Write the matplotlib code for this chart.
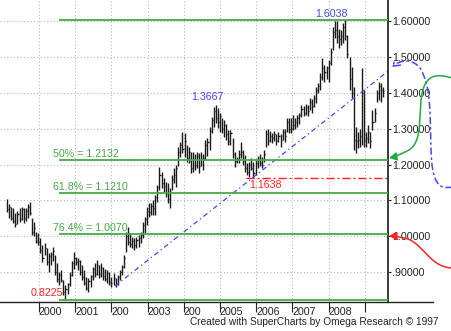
"""EUR/USD 3-week bar chart with Fibonacci retracement levels (SuperCharts style)."""

import matplotlib

matplotlib.use("Agg")
import matplotlib.pyplot as plt
import matplotlib.transforms as mtransforms
from matplotlib.lines import Line2D
from matplotlib.patches import FancyArrowPatch
from matplotlib.path import Path
import numpy as np

plt.rcParams["font.family"] = ["Liberation Sans", "DejaVu Sans"]

# ---- data -------------------------------------------------------------
bar_start = 1999.116      # first bar, fractional year
bar_step = 3 / 52         # one bar every three weeks

highs = [
    1.103, 1.090, 1.083, 1.079, 1.065, 1.070, 1.079, 1.083, 1.080, 1.078,
    1.090, 1.097, 1.051, 1.040, 1.013, 1.010, 0.995, 0.976, 0.981, 0.967,
    0.953, 0.957, 0.970, 0.948, 0.925, 0.900, 0.906, 0.878, 0.864, 0.870,
    0.900, 0.930, 0.957, 0.943, 0.939, 0.933, 0.920, 0.905, 0.887, 0.883,
    0.892, 0.915, 0.925, 0.933, 0.920, 0.925, 0.915, 0.910, 0.906, 0.900,
    0.887, 0.897, 0.883, 0.892, 0.906, 0.920, 0.948, 1.013, 1.027, 1.009,
    0.999, 0.994, 0.999, 1.004, 1.013, 1.040, 1.055, 1.083, 1.092, 1.092,
    1.100, 1.115, 1.143, 1.194, 1.180, 1.162, 1.153, 1.149, 1.135, 1.171,
    1.190, 1.199, 1.250, 1.264, 1.292, 1.288, 1.255, 1.250, 1.236, 1.236,
    1.230, 1.236, 1.232, 1.236, 1.230, 1.270, 1.275, 1.306, 1.334, 1.360,
    1.3667, 1.358, 1.345, 1.330, 1.325, 1.315, 1.297, 1.297, 1.275, 1.236,
    1.222, 1.241, 1.264, 1.241, 1.227, 1.204, 1.208, 1.218, 1.208, 1.212,
    1.225, 1.230, 1.222, 1.241, 1.297, 1.300, 1.295, 1.288, 1.295, 1.285,
    1.292, 1.285, 1.300, 1.300, 1.330, 1.330, 1.330, 1.339, 1.330, 1.339,
    1.345, 1.367, 1.365, 1.370, 1.368, 1.386, 1.383, 1.395, 1.418, 1.428,
    1.456, 1.498, 1.478, 1.475, 1.492, 1.526, 1.585, 1.600, 1.600, 1.580,
    1.575, 1.596, 1.6038, 1.562, 1.500, 1.473, 1.418, 1.306, 1.290, 1.300,
    1.470, 1.409, 1.290, 1.310, 1.290, 1.353, 1.358, 1.409, 1.432, 1.428,
    1.418,
]
lows = [
    1.069, 1.051, 1.045, 1.037, 1.026, 1.034, 1.040, 1.045, 1.037, 1.042,
    1.051, 1.060, 1.004, 1.000, 0.980, 0.975, 0.953, 0.929, 0.948, 0.920,
    0.900, 0.920, 0.930, 0.892, 0.873, 0.864, 0.873, 0.836, 0.8225, 0.840,
    0.860, 0.890, 0.910, 0.920, 0.906, 0.892, 0.878, 0.864, 0.850, 0.845,
    0.859, 0.878, 0.887, 0.892, 0.883, 0.887, 0.878, 0.874, 0.869, 0.864,
    0.859, 0.864, 0.859, 0.864, 0.878, 0.892, 0.911, 0.957, 0.976, 0.971,
    0.966, 0.962, 0.966, 0.971, 0.980, 0.994, 1.008, 1.031, 1.055, 1.060,
    1.059, 1.059, 1.097, 1.129, 1.135, 1.125, 1.110, 1.093, 1.079, 1.129,
    1.149, 1.139, 1.195, 1.222, 1.232, 1.222, 1.208, 1.205, 1.176, 1.180,
    1.185, 1.190, 1.178, 1.195, 1.185, 1.213, 1.225, 1.241, 1.288, 1.306,
    1.316, 1.302, 1.290, 1.288, 1.278, 1.270, 1.255, 1.255, 1.219, 1.194,
    1.204, 1.204, 1.218, 1.199, 1.180, 1.171, 1.166, 1.185, 1.1638, 1.172,
    1.190, 1.195, 1.191, 1.208, 1.250, 1.255, 1.262, 1.260, 1.265, 1.255,
    1.262, 1.250, 1.268, 1.262, 1.290, 1.288, 1.288, 1.297, 1.300, 1.306,
    1.315, 1.334, 1.335, 1.340, 1.335, 1.353, 1.345, 1.362, 1.371, 1.400,
    1.409, 1.437, 1.432, 1.440, 1.432, 1.478, 1.520, 1.555, 1.540, 1.526,
    1.535, 1.540, 1.548, 1.498, 1.409, 1.386, 1.241, 1.233, 1.247, 1.250,
    1.255, 1.250, 1.250, 1.260, 1.247, 1.297, 1.320, 1.376, 1.381, 1.376,
    1.390,
]
closes = [
    1.075, 1.082, 1.052, 1.044, 1.035, 1.062, 1.048, 1.076, 1.050, 1.070,
    1.082, 1.066, 1.012, 1.022, 0.988, 0.984, 0.962, 0.940, 0.968, 0.928,
    0.945, 0.950, 0.958, 0.900, 0.880, 0.892, 0.878, 0.845, 0.852, 0.866,
    0.893, 0.925, 0.940, 0.928, 0.930, 0.900, 0.885, 0.870, 0.856, 0.874,
    0.888, 0.908, 0.896, 0.920, 0.895, 0.912, 0.888, 0.880, 0.898, 0.872,
    0.870, 0.884, 0.866, 0.886, 0.900, 0.915, 0.940, 1.000, 0.985, 0.978,
    0.988, 0.975, 0.990, 0.995, 1.005, 1.032, 1.048, 1.072, 1.068, 1.085,
    1.078, 1.110, 1.138, 1.170, 1.150, 1.140, 1.120, 1.105, 1.125, 1.160,
    1.170, 1.190, 1.235, 1.255, 1.245, 1.265, 1.220, 1.235, 1.190, 1.215,
    1.200, 1.225, 1.195, 1.215, 1.220, 1.255, 1.262, 1.295, 1.325, 1.350,
    1.330, 1.320, 1.335, 1.300, 1.310, 1.285, 1.265, 1.288, 1.230, 1.210,
    1.215, 1.230, 1.235, 1.210, 1.190, 1.180, 1.200, 1.192, 1.178, 1.205,
    1.215, 1.205, 1.200, 1.230, 1.285, 1.270, 1.280, 1.275, 1.285, 1.265,
    1.280, 1.270, 1.290, 1.280, 1.320, 1.300, 1.300, 1.310, 1.320, 1.330,
    1.338, 1.355, 1.345, 1.360, 1.350, 1.375, 1.365, 1.385, 1.410, 1.420,
    1.445, 1.470, 1.460, 1.470, 1.485, 1.515, 1.570, 1.575, 1.560, 1.550,
    1.560, 1.585, 1.560, 1.510, 1.440, 1.400, 1.270, 1.265, 1.270, 1.280,
    1.400, 1.270, 1.275, 1.290, 1.265, 1.320, 1.345, 1.400, 1.420, 1.410,
    1.405,
]

swing_high = 1.6038
swing_low = 0.8225
mid_high = 1.3667
mid_low = 1.1638
fib_levels = [1.2132, 1.1210, 1.0070]
fib_labels = ["50% = 1.2132", "61.8% = 1.1210", "76.4% = 1.0070"]

year_ticks = [2000, 2001, 2002, 2003, 2004, 2005, 2006, 2007, 2008, 2009]
year_labels = ["2000", "2001", "200", "2003", "200", "2005", "2006", "2007", "2008", ""]
price_ticks = [0.9, 1.0, 1.1, 1.2, 1.3, 1.4, 1.5, 1.6]

trend_start = (2002.10, 0.861)
trend_end = (2009.70, 1.469)

caption = "Created with SuperCharts by Omega Research \u00a9 1997"

# ---- style ------------------------------------------------------------
GREEN = "#44aa44"
RED = "#ff2222"
BLUE = "#4444ff"
BAR = "#1a1a1a"
FS = 7.7
W, H = 452, 331

fig = plt.figure(figsize=(W / 100, H / 100), dpi=100)
fig.patch.set_facecolor("white")
ax = fig.add_axes([0, 29 / H, 388 / W, 302 / H])

dates = bar_start + bar_step * np.arange(len(highs))
ax.vlines(dates, lows, highs, color=BAR, linewidth=1.0)
ax.hlines(closes, dates, dates + 0.03, color=BAR, linewidth=1.0)

x_left, x_right = 1998.923, 2009.641
ax.set_xlim(x_left, x_right)
ax.set_ylim(0.8165, 1.660)

# Fibonacci / swing levels
line_from = 2000.55
for lvl in [swing_high, swing_low] + fib_levels:
    ax.plot([line_from, x_right], [lvl, lvl], color=GREEN, linewidth=1.3,
            solid_capstyle="butt", clip_on=False, zorder=3)
for lvl, lab in zip(fib_levels, fib_labels):
    ax.text(2000.39, lvl + 0.017, lab, color=GREEN, fontsize=FS,
            ha="left", va="center")

ax.plot([2005.72, x_right], [mid_low, mid_low], color=RED, linewidth=1.0,
        linestyle=(0, (6, 2, 1.5, 2)))
ax.text(2000.66, swing_low + 0.020, f"{swing_low:.4f}", color=RED,
        fontsize=FS, ha="right", va="center")
ax.text(2005.80, mid_low - 0.020, f"{mid_low:.4f}", color=RED,
        fontsize=FS, ha="left", va="center")
ax.text(2008.07, swing_high + 0.017, f"{swing_high:.4f}", color=BLUE,
        fontsize=FS, ha="center", va="center")
ax.text(2004.64, mid_high + 0.022, f"{mid_high:.4f}", color=BLUE,
        fontsize=FS, ha="center", va="center")

# trend line from the 2002 low through the 2005 low
ax.plot([trend_start[0], trend_end[0] - 0.06], [trend_start[1], trend_end[1] - 0.008],
        color=BLUE, linewidth=0.9, linestyle=(0, (4, 2.5, 1, 2.5)), clip_on=False)

# axes cosmetics
for side in ["left", "top", "bottom"]:
    ax.spines[side].set_visible(False)
ax.spines["right"].set_color("#3a3a3a")
ax.spines["right"].set_linewidth(1.4)

ax.yaxis.tick_right()
ax.set_yticks(price_ticks)
ax.set_yticklabels([f"{v:.5f}".lstrip("0") for v in price_ticks])
ax.tick_params(axis="y", direction="out", length=2.5, width=0.8, pad=0.5,
               labelsize=FS, colors="#222222")

ax.set_xticks(year_ticks)
ax.set_xticklabels(year_labels, ha="left")
ax.tick_params(axis="x", direction="out", length=7, width=0.8, pad=-3.5,
               labelsize=FS, colors="#222222")
for lbl in ax.get_xticklabels():
    lbl.set_horizontalalignment("left")

ax.grid(True, color="#b8b8b8", linestyle=(0, (1, 2)), linewidth=0.8)
ax.set_axisbelow(True)

# bottom rule extends beyond the price scale
fig.add_artist(Line2D([0, 433 / W], [1 - 302 / H, 1 - 302 / H],
                      color="#222222", linewidth=1.0))

fig.text(190 / W, 1 - 322 / H, caption, fontsize=7.25, ha="left", va="center",
         color="#222222")

# hand-drawn style arrows right of the price scale (figure pixel coords)
px = mtransforms.Affine2D().scale(1 / W, -1 / H).translate(0, 1) + fig.transFigure
C4, M = Path.CURVE4, Path.MOVETO

blue_path = Path(
    [(452, 187), (438, 190), (432, 182), (431, 150),
     (430, 110), (431, 86), (420, 68),
     (412, 58), (400, 60), (392, 67)],
    [M, C4, C4, C4, C4, C4, C4, C4, C4, C4],
)
green_path = Path(
    [(452, 78), (438, 74), (424, 72), (421, 100),
     (419, 128), (421, 146), (405, 152),
     (399, 155), (394, 157), (389, 158)],
    [M, C4, C4, C4, C4, C4, C4, C4, C4, C4],
)
red_path = Path(
    [(452, 268), (430, 267), (425, 246), (408, 239),
     (400, 237), (395, 236), (389, 236)],
    [M, C4, C4, C4, C4, C4, C4],
)
for path, col, style, ls in [
    (blue_path, BLUE, "->,head_length=0.45,head_width=0.3", (0, (4, 2.5, 1, 2.5))),
    (green_path, "#22aa44", "-|>,head_length=0.45,head_width=0.25", "-"),
    (red_path, RED, "-|>,head_length=0.45,head_width=0.25", "-"),
]:
    fig.add_artist(FancyArrowPatch(path=path, arrowstyle=style, mutation_scale=10,
                                   color=col, linewidth=1.1, linestyle=ls,
                                   transform=px))

fig.savefig("out.png", dpi=100)
